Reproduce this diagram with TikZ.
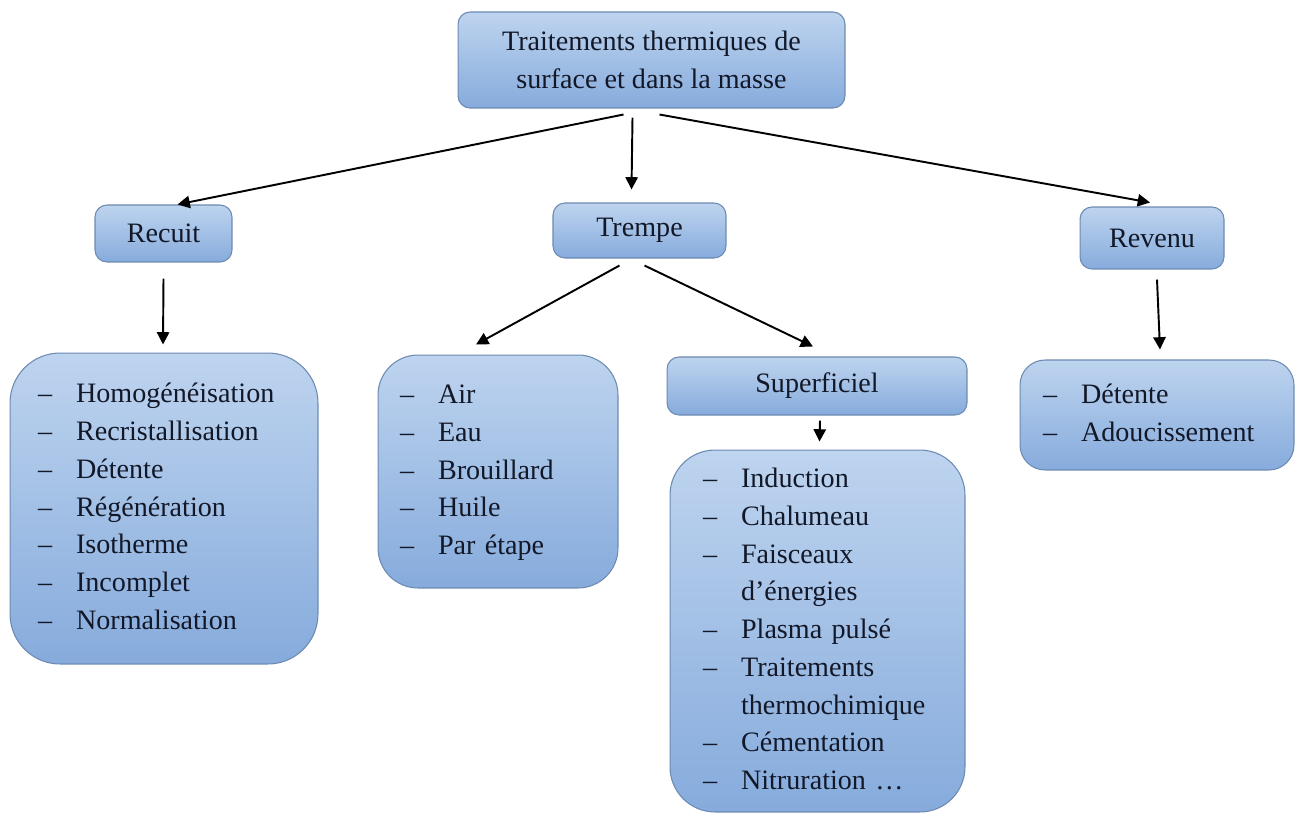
\documentclass[tikz,border=0pt]{standalone}
\usepackage{fontspec}
\setmainfont{Liberation Serif}
\usepackage{xcolor}
\usepackage{tikz}
\usetikzlibrary{arrows.meta, positioning, calc}

\definecolor{boiteHaut}{RGB}{190,212,239}
\definecolor{boiteBas}{RGB}{134,171,220}
\definecolor{bord}{RGB}{108,138,178}
\definecolor{texte}{RGB}{18,24,40}

\tikzset{
    boite/.style={draw=bord, line width=0.6pt, top color=boiteHaut, bottom color=boiteBas,
        rounded corners=0.24cm, text=texte, font=\fontsize{16}{21.5}\selectfont, inner sep=0pt},
    liste/.style={boite, align=left},
    fleche/.style={-{Triangle[length=7pt,width=7pt]}, line width=1.1pt, black}
}

% list with dashes
\newcommand{\tirets}[1]{\begin{tabular}{@{}l@{\hspace{0.48cm}}l@{}}#1\end{tabular}}

\begin{document}
\begin{tikzpicture}[x=0.02cm, y=-0.02cm]
    \useasboundingbox (0,0) rectangle (1301,815);

    % Top level
    \node[boite, align=center, minimum width=7.74cm, minimum height=1.92cm] (top) at (651.5,60)
        {Traitements thermiques de\\surface et dans la masse};

    % Second level
    \node[boite, minimum width=2.74cm, minimum height=1.14cm] (recuit) at (163.5,233.5) {Recuit};
    \node[boite, minimum width=3.46cm, minimum height=1.10cm] (trempe) at (639.5,230.5) {Trempe};
    \node[boite, minimum width=2.88cm, minimum height=1.24cm] (revenu) at (1152,238) {Revenu};
    \node[boite, minimum width=6.0cm, minimum height=1.16cm] (superficiel) at (817,386) {Superficiel};

    % Lists
    \node[liste, rounded corners=1cm, minimum width=6.16cm, minimum height=6.22cm,
          text width=5.04cm] (listeRecuit) at (164,508.5)
        {\tirets{-- & Homogénéisation\\ -- & Recristallisation\\ -- & Détente\\ -- & Régénération\\
                 -- & Isotherme\\ -- & Incomplet\\ -- & Normalisation}};
    \node[liste, rounded corners=0.8cm, minimum width=4.8cm, minimum height=4.66cm,
          text width=3.92cm] (listeTrempe) at (498,471.5)
        {\tirets{-- & Air\\ -- & Eau\\ -- & Brouillard\\ -- & Huile\\ -- & Par\ étape}};
    \node[liste, rounded corners=0.9cm, minimum width=5.9cm, minimum height=7.24cm,
          text width=4.58cm] (listeSuperficiel) at (817.5,631)
        {\tirets{-- & Induction\\ -- & Chalumeau\\ -- & Faisceaux\\ & d’énergies\\ -- & Plasma pulsé\\
                 -- & Traitements\\ & thermochimique\\ -- & Cémentation\\ -- & Nitruration \dots}};
    \node[liste, rounded corners=0.5cm, minimum width=5.48cm, minimum height=2.2cm,
          text width=4.56cm] (listeRevenu) at (1157,415)
        {\tirets{-- & Détente\\ -- & Adoucissement}};

    % Arrows
    \draw[fleche] ($(top.south)+(-28,6)$) -- ($(recuit.north)+(14,0)$);
    \draw[fleche] ($(top.south)+(-19,9)$) -- ($(trempe.north)+(-8,-13)$);
    \draw[fleche] ($(top.south)+(8,6)$) -- ($(revenu.north)+(-2,-4)$);
    \draw[fleche] ($(recuit.south)+(0,16)$) -- ($(listeRecuit.north)+(-1,-8)$);
    \draw[fleche] ($(trempe.south)+(-20,7)$) -- ($(listeTrempe.north)+(-22,-10)$);
    \draw[fleche] ($(trempe.south)+(5,7)$) -- ($(superficiel.north)+(-4,-10)$);
    \draw[fleche] ($(revenu.south)+(5,10)$) -- ($(listeRevenu.north)+(3,-10)$);
    \draw[fleche] ($(superficiel.south)+(3,5)$) -- ($(listeSuperficiel.north)+(2,-8)$);
\end{tikzpicture}
\end{document}
